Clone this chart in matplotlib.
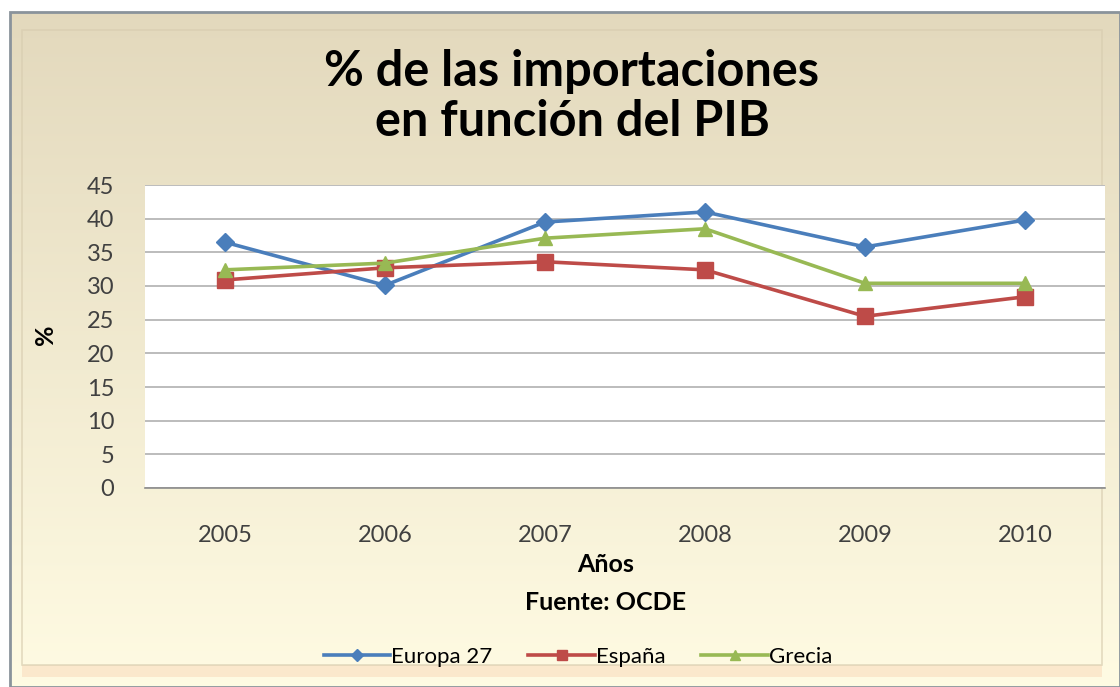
import matplotlib
matplotlib.use("Agg")
import matplotlib.pyplot as plt
import numpy as np
from matplotlib.patches import Rectangle

years = ["2005", "2006", "2007", "2008", "2009", "2010"]
europa = [36.5, 30.1, 39.5, 41.0, 35.8, 39.8]
espana = [30.9, 32.7, 33.6, 32.4, 25.5, 28.4]
grecia = [32.4, 33.4, 37.1, 38.5, 30.4, 30.4]

W, H = 1120, 687
plt.rcParams["font.family"] = ["Lato", "DejaVu Sans"]

fig = plt.figure(figsize=(W / 100, H / 100), dpi=100, facecolor="white")

# background panel with vertical cream gradient and a simple bevel
bg = fig.add_axes([0, 0, 1, 1])
bg.set_xlim(0, W); bg.set_ylim(H, 0); bg.axis("off")
grad = np.linspace(0, 1, 256)[:, None]
c0 = np.array([0.89, 0.85, 0.74]); c1 = np.array([1.0, 0.985, 0.89])
img = c0 + (c1 - c0) * grad[..., None]
bg.imshow(img, extent=[10, W, H, 12], aspect="auto", zorder=0)
bg.add_patch(Rectangle((10, 12), W - 10, H - 12, fill=False, ec="#8a939b", lw=2, zorder=2))
bg.add_patch(Rectangle((22, 30), W - 40, H - 52, fill=False, ec="#d8cdb0", lw=1.2, zorder=2, alpha=.7))
bg.add_patch(Rectangle((22, H - 22), W - 40, 12, fc="#fbe8cc", ec="none", zorder=1))

ax = fig.add_axes([145 / W, 1 - 488 / H, 960 / W, 303 / H])
ax.set_facecolor("white")
x = np.arange(len(years))
ax.plot(x, europa, "-D", c="#4a7ebb", lw=2.6, ms=9, label="Europa 27", zorder=3)
ax.plot(x, espana, "-s", c="#be4b48", lw=2.6, ms=11, label="España", zorder=3)
ax.plot(x, grecia, "-^", c="#98b954", lw=2.6, ms=10, label="Grecia", zorder=3)
ax.set_xlim(-0.5, 5.5); ax.set_ylim(0, 45)
ax.set_yticks(range(0, 46, 5))
ax.set_xticks(x); ax.set_xticklabels(years)
ax.grid(axis="y", c="#b0b0b0", lw=1.2)
ax.set_axisbelow(True)
for s in ["top", "right", "left"]:
    ax.spines[s].set_visible(False)
ax.spines["bottom"].set_color("#8c8c8c"); ax.spines["bottom"].set_linewidth(1.2)
ax.tick_params(length=0, labelsize=17, colors="#404040")
ax.tick_params(axis="x", pad=27)
ax.tick_params(axis="y", pad=22)

fig.text(572 / W, 1 - 72 / H, "% de las importaciones", ha="center", va="center",
         fontsize=35, fontweight="bold", color="black")
fig.text(572 / W, 1 - 122 / H, "en función del PIB", ha="center", va="center",
         fontsize=35, fontweight="bold", color="black")
fig.text(606 / W, 1 - 565 / H, "Años", ha="center", va="center", fontsize=18, fontweight="bold")
fig.text(606 / W, 1 - 603 / H, "Fuente: OCDE", ha="center", va="center", fontsize=18, fontweight="bold")
fig.text(45 / W, 1 - 335 / H, "%", ha="center", va="center", rotation=90, fontsize=18, fontweight="bold")

fig.legend(*ax.get_legend_handles_labels(), loc="center", bbox_to_anchor=(578 / W, 1 - 657 / H),
           ncol=3, frameon=False, fontsize=16, handlelength=3.0, handletextpad=0.05,
           columnspacing=1.6, markerscale=0.65)

fig.savefig("out.png", dpi=100, facecolor="white")
